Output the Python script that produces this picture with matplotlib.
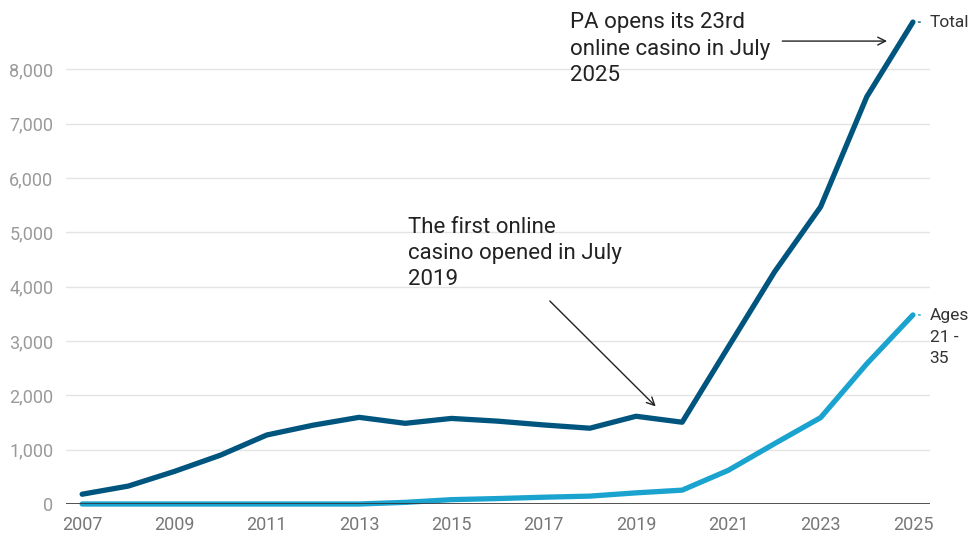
import matplotlib.pyplot as plt
from matplotlib.ticker import FuncFormatter

plt.rcParams['font.family'] = ['Roboto', 'DejaVu Sans']

# Data
years = list(range(2007, 2026))
total = [180, 330, 600, 900, 1270, 1450, 1595, 1485, 1575, 1525,
         1455, 1395, 1615, 1505, 2890, 4270, 5470, 7495, 8870]
ages_21_35 = [0, 0, 0, 0, 0, 0, 0, 30, 80, 100,
              125, 145, 205, 255, 620, 1110, 1590, 2580, 3480]
y_ticks = [0, 1000, 2000, 3000, 4000, 5000, 6000, 7000, 8000]
x_ticks = list(range(2007, 2026, 2))

dark = '#00557f'
light = '#1ba3cf'

fig = plt.figure(figsize=(9.73, 5.33), dpi=100)
ax = fig.add_axes([66 / 973, 29 / 533, 864 / 973, 489 / 533])

ax.plot(years, total, color=dark, lw=3.8, solid_capstyle='round', clip_on=False, zorder=3)
ax.plot(years, ages_21_35, color=light, lw=3.8, solid_capstyle='round', clip_on=False, zorder=2)
ax.axhline(0, color='#333333', lw=1.2, zorder=4)

ax.set_xlim(2006.65, 2025.37)
ax.set_ylim(0, 9000)
ax.set_yticks(y_ticks)
ax.set_xticks(x_ticks)
ax.yaxis.set_major_formatter(FuncFormatter(lambda v, p: f'{int(v):,}'))
ax.grid(axis='y', color='#e4e4e4', lw=1)
ax.set_axisbelow(True)
for s in ax.spines.values():
    s.set_visible(False)
ax.tick_params(axis='both', length=0, labelsize=13, colors='#9a9a9a')
ax.tick_params(axis='y', pad=9)
ax.tick_params(axis='x', pad=9, labelcolor='#777777')

# series labels at line ends
ax.annotate('Total', xy=(years[-1], total[-1]), xytext=(12, 0), textcoords='offset points',
            fontsize=12.5, color='#333333', va='center', ha='left')
ax.annotate('', xy=(years[-1] + 0.12, total[-1]), xytext=(years[-1] + 0.22, total[-1]),
            arrowprops=dict(arrowstyle='-', color=dark, lw=1))
ax.annotate('Ages\n21 -\n35', xy=(years[-1], ages_21_35[-1]), xytext=(12, 5),
            textcoords='offset points', fontsize=12.5, color='#333333', va='top', ha='left',
            linespacing=1.55)
ax.annotate('', xy=(years[-1] + 0.12, ages_21_35[-1]), xytext=(years[-1] + 0.22, ages_21_35[-1]),
            arrowprops=dict(arrowstyle='-', color=light, lw=1))

# annotations
ax.text(2017.57, 9050, 'PA opens its 23rd\nonline casino in July\n2025', fontsize=16,
        color='#222222', va='top', ha='left', linespacing=1.33)
ax.annotate('', xy=(2024.5, 8520), xytext=(2022.11, 8520),
            arrowprops=dict(arrowstyle='->', color='#222222', lw=1, mutation_scale=14))
ax.text(2014.05, 5290, 'The first online\ncasino opened in July\n2019', fontsize=16,
        color='#222222', va='top', ha='left', linespacing=1.33)
ax.annotate('', xy=(2019.47, 1760), xytext=(2017.09, 3772),
            arrowprops=dict(arrowstyle='->', color='#222222', lw=1, mutation_scale=14))

fig.savefig('out.png', dpi=100)
